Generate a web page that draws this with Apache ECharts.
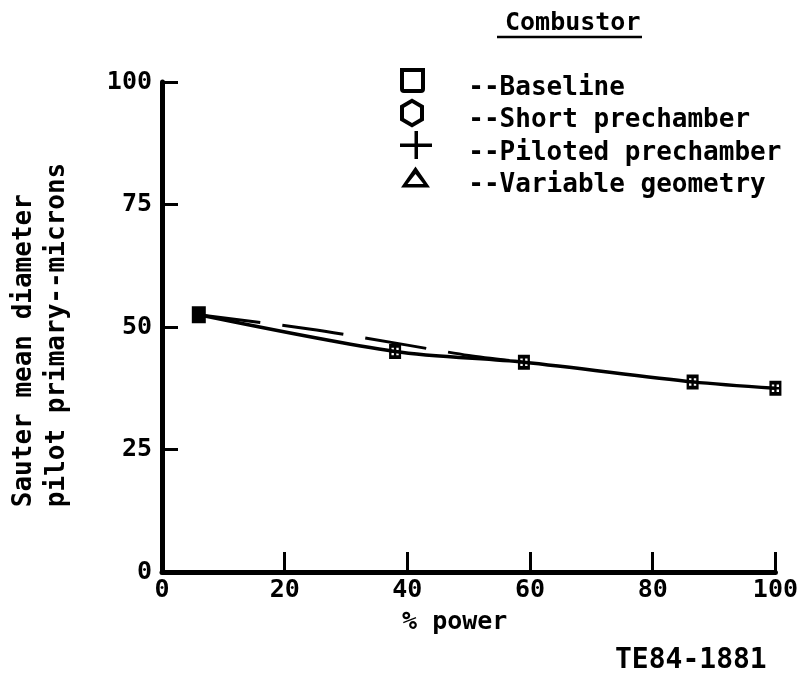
<!DOCTYPE html>
<html>
<head>
<meta charset="utf-8">
<script src="https://cdn.jsdelivr.net/npm/echarts@6/dist/echarts.min.js"></script>
<style>
  html, body { margin: 0; padding: 0; background: #fff; overflow: hidden; }
  #chart { width: 801px; height: 685px; }
</style>
</head>
<body>
<div id="chart"></div>
<script>
// Measured Sauter mean diameter vs. engine power
const powerPct = [6, 38, 59, 86.5, 100];
const smdMicrons = [52.5, 45, 42.8, 38.8, 37.5];

// Second (dashed) fit, runs just above the main curve at low power
const dashPower = [6, 24, 40, 50, 59];
const dashSmd = [52.5, 49.6, 46.3, 44.2, 42.8];

const xTicks = [0, 20, 40, 60, 80, 100];
const yTicks = [0, 25, 50, 75, 100];
const combustors = ['Baseline', 'Short prechamber', 'Piloted prechamber', 'Variable geometry'];

const FONT = '"DejaVu Sans Mono", "Liberation Mono", monospace';

// Legend glyphs in a common 32x44 frame (hollow outlines via reversed inner sub-paths);
// the trailing move-to points pin every glyph's frame to the same box.
const FRAME = ' M0,0 M32,44';
const icons = {
  'Baseline': 'path://M0,2H25V23Q25,27 21,27H4Q0,27 0,23Z M4,6V23H21V6Z' + FRAME,
  'Short prechamber': 'path://M12,0L24,7L24,22L12,29L0,22L0,7Z M12,4.6L4,9.3L4,19.7L12,24.4L20,19.7L20,9.3Z' + FRAME,
  'Piloted prechamber': 'path://M14.5,0H18V12.5H32V16H18V28H14.5V16H0V12.5H14.5Z' + FRAME,
  'Variable geometry': 'path://M15.5,3L30,24L1,24Z M15.5,10.5L7.5,20.5L23.5,20.5Z' + FRAME
};

// Data marker: dark square with four small windows
const markerPath = 'path://M0,0H10V12H0Z M2,3V5H4V3Z M6,3V5H8V3Z M2,7V9H4V7Z M6,7V9H8V7Z';

const mainData = powerPct.map((p, i) => {
  const item = { value: [p, smdMicrons[i]] };
  if (i === 0) { item.symbol = 'rect'; item.symbolSize = [14, 17]; }
  return item;
});

const chart = echarts.init(document.getElementById('chart'));
chart.setOption({
  animation: false,
  color: ['#000'],
  backgroundColor: '#fff',
  textStyle: { fontFamily: FONT, color: '#000' },
  title: {
    text: 'Combustor',
    left: 500,
    top: 6,
    textStyle: { fontFamily: FONT, fontSize: 25, fontWeight: 'bold', color: '#000' }
  },
  legend: {
    orient: 'vertical',
    left: 400,
    top: 66,
    padding: 0,
    itemWidth: 32,
    itemHeight: 44,
    itemGap: -11.5,
    selectedMode: false,
    formatter: name => '  --' + name,
    textStyle: { fontFamily: FONT, fontSize: 26, fontWeight: 'bold', color: '#000' },
    data: combustors.map(n => ({ name: n, icon: icons[n] }))
  },
  grid: { left: 162, right: 20, top: 82, bottom: 113, containLabel: false },
  xAxis: {
    type: 'value',
    min: xTicks[0], max: xTicks[xTicks.length - 1], interval: 20,
    name: '% power',
    nameLocation: 'middle',
    nameGap: 38,
    nameTextStyle: { fontFamily: FONT, fontSize: 25, fontWeight: 'bold', color: '#000', padding: [0, 28, 0, 0] },
    axisLine: { lineStyle: { color: '#000', width: 5 } },
    axisTick: { inside: true, length: 20, lineStyle: { color: '#000', width: 3 } },
    axisLabel: { fontFamily: FONT, fontSize: 25, fontWeight: 'bold', color: '#000', margin: 6 },
    splitLine: { show: false }
  },
  yAxis: {
    type: 'value',
    min: yTicks[0], max: yTicks[yTicks.length - 1], interval: 25,
    name: 'Sauter mean diameter  \npilot primary--microns',
    nameLocation: 'middle',
    nameGap: 88,
    nameRotate: 90,
    nameTextStyle: { fontFamily: FONT, fontSize: 26, fontWeight: 'bold', color: '#000', lineHeight: 33, padding: [0, 16, 0, 0] },
    axisLine: { lineStyle: { color: '#000', width: 5 } },
    axisTick: { inside: true, length: 16, lineStyle: { color: '#000', width: 3 } },
    axisLabel: { fontFamily: FONT, fontSize: 25, fontWeight: 'bold', color: '#000', margin: 10 },
    splitLine: { show: false }
  },
  series: [
    {
      name: 'Baseline',
      type: 'line',
      smooth: 0.3,
      data: mainData,
      symbol: markerPath,
      symbolSize: [12, 15],
      lineStyle: { color: '#000', width: 3.5 },
      itemStyle: { color: '#000' },
      z: 3
    },
    {
      name: 'dashed fit',
      type: 'line',
      smooth: 0.3,
      data: dashPower.map((p, i) => [p, dashSmd[i]]),
      symbol: 'none',
      lineStyle: { color: '#000', width: 3, type: [62, 22], dashOffset: 0 },
      z: 2
    },
    { name: 'Short prechamber', type: 'line', data: [], itemStyle: { color: '#000' } },
    { name: 'Piloted prechamber', type: 'line', data: [], itemStyle: { color: '#000' } },
    { name: 'Variable geometry', type: 'line', data: [], itemStyle: { color: '#000' } }
  ],
  graphic: [
    {
      type: 'line',
      shape: { x1: 497, y1: 37, x2: 642, y2: 37 },
      style: { stroke: '#000', lineWidth: 2.5 }
    },
    {
      type: 'text',
      left: 615,
      top: 647,
      style: { text: 'TE84-1881', fontFamily: FONT, fontSize: 28, fontWeight: 'bold', fill: '#000' }
    }
  ]
});
</script>
</body>
</html>
